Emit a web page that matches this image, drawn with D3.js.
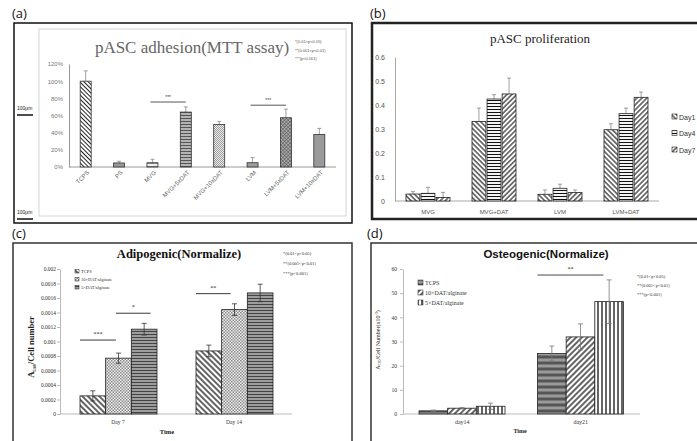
<!DOCTYPE html>
<html>
<head>
<meta charset="utf-8">
<title>pASC figure</title>
<script src="https://cdnjs.cloudflare.com/ajax/libs/d3/7.8.5/d3.min.js"></script>
<style>
  body { margin:0; background:#fff; }
  svg { display:block; }
</style>
</head>
<body>
<div id="fig"></div>
<script>
////////////////////////////////
// DATA

// (a) adhesion, fraction of TCPS
var adhCats  = ["TCPS","PS","MVG","MVG+5xDAT","MVG+10xDAT","LVM","LVM+5xDAT","LVM+10xDAT"];
var adhVals  = [1.00, 0.047, 0.05, 0.64, 0.496, 0.05, 0.574, 0.38];
var adhErr   = [0.12, 0.02, 0.04, 0.06, 0.035, 0.06, 0.10, 0.07];
var adhTicks = [0, 0.2, 0.4, 0.6, 0.8, 1.0, 1.2];
var adhSig   = [["MVG","MVG+5xDAT",0.757,"***"], ["LVM","LVM+5xDAT",0.72,"***"]];

// (b) proliferation
var proCats  = ["MVG","MVG+DAT","LVM","LVM+DAT"];
var proDays  = ["Day1","Day4","Day7"];
var proDay1  = [0.029, 0.331, 0.028, 0.297];
var proDay4  = [0.032, 0.425, 0.053, 0.364];
var proDay7  = [0.015, 0.446, 0.035, 0.432];
var proErr1  = [0.010, 0.056, 0.018, 0.025];
var proErr4  = [0.025, 0.018, 0.017, 0.023];
var proErr7  = [0.021, 0.066, 0.011, 0.022];
var proTicks = [0, 0.1, 0.2, 0.3, 0.4, 0.5, 0.6];

// (c) adipogenic
var adiTimes = ["Day 7","Day 14"];
var adiGroups = ["TCPS","10×DAT/alginate","5×DAT/alginate"];
var adiTCPS  = [0.00025, 0.00087];
var adi10x   = [0.00077, 0.00144];
var adi5x    = [0.00117, 0.00167];
var adiErrT  = [0.00007, 0.00008];
var adiErr10 = [0.00007, 0.00008];
var adiErr5  = [0.00008, 0.00012];
var adiTicks = d3.range(0, 0.00201, 0.0002);
// [time, from bar, to bar, level, label]
var adiSig   = [["Day 7",0,1.4,0.00102,"***"], ["Day 7",1.4,2.75,0.00139,"*"], ["Day 14",0,1.35,0.00166,"**"]];

// (d) osteogenic
var ostTimes = ["day14","day21"];
var ostGroups = ["TCPS","10×DAT/alginate","5×DAT/alginate"];
var ostTCPS  = [1.3, 25.0];
var ost10x   = [2.4, 31.9];
var ost5x    = [3.2, 46.5];
var ostErrT  = [0.3, 3.1];
var ostErr10 = [0.3, 5.4];
var ostErr5  = [1.3, 9.0];
var ostTicks = [0, 10, 20, 30, 40, 50, 60];
var ostSig   = [["day21",0,2.3,57.5,"**"]];

var sigLegend = ["*(0.01<p<0.05)", "**(0.001<p<0.01)", "***(p<0.001)"];

////////////////////////////////
// SETUP
var SANS = "'Liberation Sans', Arial, sans-serif";
var SERIF = "'Liberation Serif', 'Times New Roman', serif";
var LABEL = "'Open Sans', 'DejaVu Sans', sans-serif";

var svg = d3.select("#fig").append("svg").attr("width", 697).attr("height", 441);
svg.append("rect").attr("width", 697).attr("height", 441).attr("fill", "#fff");
var defs = svg.append("defs");

// line hatch: angle 0 = vertical, 90 = horizontal, 45 = "/", -45 = "\"
function hatch(id, angle, gap, sw, color, bg) {
	var p = defs.append("pattern").attr("id", id)
		.attr("patternUnits", "userSpaceOnUse")
		.attr("width", gap).attr("height", gap)
		.attr("patternTransform", "rotate(" + angle + ")");
	p.append("rect").attr("width", gap).attr("height", gap).attr("fill", bg);
	p.append("line").attr("x1", gap/2).attr("y1", 0).attr("x2", gap/2).attr("y2", gap)
		.attr("stroke", color).attr("stroke-width", sw);
	return "url(#" + id + ")";
}
function cross(id, gap, sw, color, bg) {
	var p = defs.append("pattern").attr("id", id)
		.attr("patternUnits", "userSpaceOnUse")
		.attr("width", gap).attr("height", gap)
		.attr("patternTransform", "rotate(45)");
	p.append("rect").attr("width", gap).attr("height", gap).attr("fill", bg);
	p.append("line").attr("x1", gap/2).attr("y1", 0).attr("x2", gap/2).attr("y2", gap).attr("stroke", color).attr("stroke-width", sw);
	p.append("line").attr("x1", 0).attr("y1", gap/2).attr("x2", gap).attr("y2", gap/2).attr("stroke", color).attr("stroke-width", sw);
	return "url(#" + id + ")";
}
function checker(id, s, c1, c2) {
	var p = defs.append("pattern").attr("id", id)
		.attr("patternUnits", "userSpaceOnUse")
		.attr("width", 2*s).attr("height", 2*s);
	p.append("rect").attr("width", 2*s).attr("height", 2*s).attr("fill", c2);
	p.append("rect").attr("width", s).attr("height", s).attr("fill", c1);
	p.append("rect").attr("x", s).attr("y", s).attr("width", s).attr("height", s).attr("fill", c1);
	return "url(#" + id + ")";
}

function errBar(g, x, y1, y2, cap, color, sw) {
	g.append("line").attr("x1", x).attr("x2", x).attr("y1", y1).attr("y2", y2)
		.attr("stroke", color).attr("stroke-width", sw);
	g.append("line").attr("x1", x - cap/2).attr("x2", x + cap/2).attr("y1", y2).attr("y2", y2)
		.attr("stroke", color).attr("stroke-width", sw);
}

function styleAxis(ax, color, lineColor, size, font) {
	ax.select(".domain").attr("stroke", lineColor);
	ax.selectAll(".tick line").attr("stroke", lineColor);
	ax.selectAll("text").attr("fill", color).style("font-size", size + "px").style("font-family", font);
}

function panelLabel(x, y, t) {
	svg.append("text").attr("x", x).attr("y", y).text(t)
		.style("font-family", LABEL).style("font-size", "13px").attr("fill", "#111");
}

///////////////////////////////
// (a) pASC adhesion
panelLabel(12, 18, "(a)");
var ga = svg.append("g");
ga.append("rect").attr("x", 14).attr("y", 23).attr("width", 338).attr("height", 200)
	.attr("fill", "none").attr("stroke", "#111").attr("stroke-width", 1.5);
ga.append("rect").attr("x", 39).attr("y", 29).attr("width", 307).attr("height", 187)
	.attr("fill", "none").attr("stroke", "#d6d6d6").attr("stroke-width", 1);

var adhFills = [
	hatch("a0", -45, 3, 1, "#222", "#fff"),
	hatch("a1", 90, 2, 0.8, "#333", "#ddd"),
	hatch("a2", 90, 2.5, 0.8, "#444", "#fff"),
	hatch("a3", 90, 3, 1.4, "#555", "#ccc"),
	checker("a4", 1, "#9a9a9a", "#eee"),
	"#9c9c9c",
	cross("a6", 2.5, 0.6, "#555", "#b0b0b0"),
	"#9a9a9a"
];

var xA = d3.scaleBand().domain(adhCats).range([69, 336]);
var yA = d3.scaleLinear().domain([0, 1.2]).range([167, 64]);
var axA = ga.append("g").attr("transform", "translate(69,0)")
	.call(d3.axisLeft(yA).tickValues(adhTicks).tickSize(0).tickPadding(6).tickFormat(d3.format(".0%")));
styleAxis(axA, "#777", "#999", 6, SANS);
ga.append("line").attr("x1", 69).attr("x2", 336).attr("y1", yA(0)).attr("y2", yA(0))
	.attr("stroke", "#999").attr("stroke-width", 1);

adhCats.forEach(function(c, i) {
	var cx = xA(c) + xA.bandwidth()/2;
	errBar(ga, cx, yA(adhVals[i]), yA(adhVals[i] + adhErr[i]), 4, "#888", 0.8);
	ga.append("rect").attr("x", cx - 5.5).attr("width", 11)
		.attr("y", yA(adhVals[i])).attr("height", yA(0) - yA(adhVals[i]))
		.attr("fill", adhFills[i]).attr("stroke", "#333").attr("stroke-width", 0.8);
	ga.append("text").attr("transform", "translate(" + (cx + 4) + "," + 173 + ") rotate(-45)")
		.attr("text-anchor", "end").text(c)
		.style("font-family", SANS).style("font-size", "6px").attr("fill", "#666");
});
adhSig.forEach(function(s) {
	var x1 = xA(s[0]) + xA.bandwidth()/2 - 2, x2 = xA(s[1]) + xA.bandwidth()/2;
	ga.append("line").attr("x1", x1).attr("x2", x2).attr("y1", yA(s[2])).attr("y2", yA(s[2]))
		.attr("stroke", "#444").attr("stroke-width", 0.9);
	ga.append("text").attr("x", (x1 + x2)/2).attr("y", yA(s[2]) - 3).attr("text-anchor", "middle")
		.text(s[3]).style("font-family", SANS).style("font-size", "5px").attr("fill", "#444");
});
ga.append("text").attr("x", 192).attr("y", 53).attr("text-anchor", "middle")
	.text("pASC adhesion(MTT assay)")
	.style("font-family", SERIF).style("font-size", "17px").attr("fill", "#666");
sigLegend.forEach(function(t, i) {
	ga.append("text").attr("x", 295).attr("y", 43 + i*8.5).text(t)
		.style("font-family", SANS).style("font-size", "4px").attr("fill", "#555");
});
// scale bars left over from the micrographs
[[110, 115], [214, 219]].forEach(function(p) {
	ga.append("text").attr("x", 17).attr("y", p[0]).text("100μm")
		.style("font-family", SANS).style("font-size", "5px").attr("fill", "#222");
	ga.append("line").attr("x1", 17).attr("x2", 33).attr("y1", p[1]).attr("y2", p[1])
		.attr("stroke", "#111").attr("stroke-width", 1.5);
});

///////////////////////////////
// (b) pASC proliferation
panelLabel(370, 18, "(b)");
var gb = svg.append("g");
gb.append("rect").attr("x", 372).attr("y", 23).attr("width", 340).attr("height", 196)
	.attr("fill", "none").attr("stroke", "#222").attr("stroke-width", 2.5);
gb.append("text").attr("x", 540).attr("y", 43).attr("text-anchor", "middle")
	.text("pASC proliferation")
	.style("font-family", SERIF).style("font-size", "13px").attr("fill", "#222");

var proFills = [
	hatch("b0", -45, 3.5, 1.1, "#111", "#fff"),
	hatch("b1", 90, 3, 1.1, "#111", "#fff"),
	hatch("b2", 45, 3.5, 1.1, "#111", "#fff")
];
var proVals = [proDay1, proDay4, proDay7];
var proErrs = [proErr1, proErr4, proErr7];

var xB = d3.scaleBand().domain(proCats).range([395, 659]);
var xB2 = d3.scaleBand().domain(proDays).range([11, 55]).paddingInner(0.08);
var yB = d3.scaleLinear().domain([0, 0.6]).range([201, 57]);
var axB = gb.append("g").attr("transform", "translate(395,0)")
	.call(d3.axisLeft(yB).tickValues(proTicks).tickSize(0).tickPadding(10)
		.tickFormat(function(d) { return d === 0 ? "0" : d.toFixed(1); }));
styleAxis(axB, "#555", "#aaa", 7, SANS);
gb.append("line").attr("x1", 395).attr("x2", 659).attr("y1", yB(0)).attr("y2", yB(0))
	.attr("stroke", "#aaa").attr("stroke-width", 1.2);

proCats.forEach(function(c, i) {
	proDays.forEach(function(dname, j) {
		var x = xB(c) + xB2(dname), w = xB2.bandwidth(), v = proVals[j][i];
		errBar(gb, x + w/2, yB(v), yB(v + proErrs[j][i]), 4, "#888", 0.8);
		gb.append("rect").attr("x", x).attr("width", w).attr("y", yB(v)).attr("height", yB(0) - yB(v))
			.attr("fill", proFills[j]).attr("stroke", "#222").attr("stroke-width", 0.8);
	});
	gb.append("text").attr("x", xB(c) + xB.bandwidth()/2).attr("y", 214).attr("text-anchor", "middle")
		.text(c).style("font-family", SANS).style("font-size", "6px").attr("fill", "#555");
});
proDays.forEach(function(dname, j) {
	var y = 117 + j*16.5;
	gb.append("rect").attr("x", 672).attr("y", y - 3).attr("width", 5).attr("height", 5)
		.attr("fill", proFills[j]).attr("stroke", "#222").attr("stroke-width", 0.6);
	gb.append("text").attr("x", 679).attr("y", y + 2.5).text(dname)
		.style("font-family", SANS).style("font-size", "7px").attr("fill", "#333");
});

///////////////////////////////
// (c) Adipogenic
panelLabel(12, 238, "(c)");
var gc = svg.append("g");
gc.append("rect").attr("x", 13).attr("y", 243).attr("width", 339).attr("height", 210)
	.attr("fill", "none").attr("stroke", "#333").attr("stroke-width", 1.5);
gc.append("text").attr("x", 179).attr("y", 258).attr("text-anchor", "middle")
	.text("Adipogenic(Normalize)")
	.style("font-family", SERIF).style("font-size", "12.5px").style("font-weight", "bold").attr("fill", "#111");

var adiFills = [
	hatch("c0", -45, 4, 1.4, "#222", "#fff"),
	checker("c1", 1.5, "#8a8a8a", "#f0f0f0"),
	hatch("c2", 90, 3, 1.5, "#444", "#bbb")
];
var adiVals = [adiTCPS, adi10x, adi5x];
var adiErrs = [adiErrT, adiErr10, adiErr5];

var xC = d3.scaleBand().domain(adiTimes).range([60, 292]);
var xC2 = d3.scaleBand().domain(adiGroups).range([20, 97]);
var yC = d3.scaleLinear().domain([0, 0.002]).range([414, 269]);
var axC = gc.append("g").attr("transform", "translate(60,0)")
	.call(d3.axisLeft(yC).tickValues(adiTicks).tickSize(3).tickSizeOuter(0).tickPadding(1)
		.tickFormat(function(d) { return d < 1e-9 ? "0" : String(+d.toFixed(4)); }));
styleAxis(axC, "#333", "#bbb", 5.5, SERIF);
gc.append("line").attr("x1", 60).attr("x2", 292).attr("y1", yC(0)).attr("y2", yC(0))
	.attr("stroke", "#bbb").attr("stroke-width", 1);

adiTimes.forEach(function(t, i) {
	adiGroups.forEach(function(gname, j) {
		var x = xC(t) + xC2(gname), w = xC2.bandwidth(), v = adiVals[j][i], e = adiErrs[j][i];
		gc.append("rect").attr("x", x).attr("width", w).attr("y", yC(v)).attr("height", yC(0) - yC(v))
			.attr("fill", adiFills[j]).attr("stroke", "#222").attr("stroke-width", 0.8);
		errBar(gc, x + w/2, yC(v), yC(v + e), 5, "#333", 0.8);
		errBar(gc, x + w/2, yC(v), yC(v - e), 5, "#333", 0.8);
	});
	gc.append("text").attr("x", xC(t) + xC.bandwidth()/2).attr("y", 424).attr("text-anchor", "middle")
		.text(t).style("font-family", SERIF).style("font-size", "5.5px").attr("fill", "#333");
});
adiSig.forEach(function(s) {
	var x0 = xC(s[0]) + xC2.range()[0], step = xC2.step();
	var x1 = x0 + s[1]*step, x2 = x0 + s[2]*step;
	gc.append("line").attr("x1", x1).attr("x2", x2).attr("y1", yC(s[3])).attr("y2", yC(s[3]))
		.attr("stroke", "#222").attr("stroke-width", 0.9);
	gc.append("text").attr("x", (x1 + x2)/2).attr("y", yC(s[3]) - 4).attr("text-anchor", "middle")
		.text(s[4]).style("font-family", SERIF).style("font-size", "6px").attr("fill", "#222");
});
gc.append("text").attr("x", 167).attr("y", 434).attr("text-anchor", "middle").text("Time")
	.style("font-family", SERIF).style("font-size", "6.5px").style("font-weight", "bold").attr("fill", "#222");
var ytc = gc.append("text").attr("transform", "translate(34,347) rotate(-90)").attr("text-anchor", "middle")
	.style("font-family", SERIF).style("font-size", "8.5px").style("font-weight", "bold").attr("fill", "#222");
ytc.append("tspan").text("A");
ytc.append("tspan").text("510").style("font-size", "5px").attr("dy", 1.5);
ytc.append("tspan").text("/Cell number").attr("dy", -1.5);
adiGroups.forEach(function(gname, j) {
	var y = 272 + j*8;
	gc.append("rect").attr("x", 75).attr("y", y - 2.5).attr("width", 4).attr("height", 3.5)
		.attr("fill", adiFills[j]).attr("stroke", "#222").attr("stroke-width", 0.5);
	gc.append("text").attr("x", 81).attr("y", y + 1).text(gname)
		.style("font-family", SERIF).style("font-size", "4.5px").attr("fill", "#333");
});
sigLegend.forEach(function(t, i) {
	gc.append("text").attr("x", 283).attr("y", 255 + i*10).text(t)
		.style("font-family", SERIF).style("font-size", "4.5px").attr("fill", "#333");
});

///////////////////////////////
// (d) Osteogenic
panelLabel(367, 238, "(d)");
var gd = svg.append("g");
gd.append("rect").attr("x", 371).attr("y", 243).attr("width", 340).attr("height", 210)
	.attr("fill", "none").attr("stroke", "#333").attr("stroke-width", 1.5);
gd.append("text").attr("x", 546).attr("y", 258).attr("text-anchor", "middle")
	.text("Osteogenic(Normalize)")
	.style("font-family", SANS).style("font-size", "11.5px").style("font-weight", "bold").attr("fill", "#111");

var ostFills = [
	hatch("d0", 90, 6, 3, "#555", "#9a9a9a"),
	hatch("d1", 45, 4, 1.4, "#222", "#fff"),
	hatch("d2", 0, 4, 1.4, "#222", "#fff")
];
var ostVals = [ostTCPS, ost10x, ost5x];
var ostErrs = [ostErrT, ostErr10, ostErr5];

var xD = d3.scaleBand().domain(ostTimes).range([403, 640]);
var xD2 = d3.scaleBand().domain(ostGroups).range([16, 102]);
var yD = d3.scaleLinear().domain([0, 60]).range([414, 269]);
var axD = gd.append("g").attr("transform", "translate(403,0)")
	.call(d3.axisLeft(yD).tickValues(ostTicks).tickSize(3).tickSizeOuter(0).tickPadding(3));
styleAxis(axD, "#333", "#bbb", 5.5, SERIF);
gd.append("line").attr("x1", 403).attr("x2", 640).attr("y1", yD(0)).attr("y2", yD(0))
	.attr("stroke", "#bbb").attr("stroke-width", 1);

ostTimes.forEach(function(t, i) {
	ostGroups.forEach(function(gname, j) {
		var x = xD(t) + xD2(gname), w = xD2.bandwidth(), v = ostVals[j][i], e = ostErrs[j][i];
		gd.append("rect").attr("x", x).attr("width", w).attr("y", yD(v)).attr("height", yD(0) - yD(v))
			.attr("fill", ostFills[j]).attr("stroke", "#222").attr("stroke-width", 0.8);
		errBar(gd, x + w/2, yD(v), yD(v + e), 5, "#777", 0.8);
		errBar(gd, x + w/2, yD(v), yD(v - e), 5, "#777", 0.8);
	});
	gd.append("text").attr("x", xD(t) + xD.bandwidth()/2).attr("y", 424).attr("text-anchor", "middle")
		.text(t).style("font-family", SERIF).style("font-size", "6px").attr("fill", "#333");
});
ostSig.forEach(function(s) {
	var x0 = xD(s[0]) + xD2.range()[0], step = xD2.step();
	var x1 = x0 + s[1]*step, x2 = x0 + s[2]*step;
	gd.append("line").attr("x1", x1).attr("x2", x2).attr("y1", yD(s[3])).attr("y2", yD(s[3]))
		.attr("stroke", "#333").attr("stroke-width", 0.9);
	gd.append("text").attr("x", (x1 + x2)/2).attr("y", yD(s[3]) - 4).attr("text-anchor", "middle")
		.text(s[4]).style("font-family", SERIF).style("font-size", "6px").attr("fill", "#222");
});
gd.append("text").attr("x", 520).attr("y", 433).attr("text-anchor", "middle").text("Time")
	.style("font-family", SERIF).style("font-size", "6px").style("font-weight", "bold").attr("fill", "#222");
var ytd = gd.append("text").attr("transform", "translate(380,340) rotate(-90)").attr("text-anchor", "middle")
	.style("font-family", SERIF).style("font-size", "6px").attr("fill", "#222");
ytd.append("tspan").text("A");
ytd.append("tspan").text("570").style("font-size", "4px").attr("dy", 1.2);
ytd.append("tspan").text("/Cell Number(x10").attr("dy", -1.2);
ytd.append("tspan").text("-3").style("font-size", "4px").attr("dy", -2);
ytd.append("tspan").text(")").attr("dy", 2);
ostGroups.forEach(function(gname, j) {
	var y = 283 + j*10;
	gd.append("rect").attr("x", 418).attr("y", y - 3).attr("width", 5).attr("height", 5)
		.attr("fill", ostFills[j]).attr("stroke", "#222").attr("stroke-width", 0.5);
	gd.append("text").attr("x", 425).attr("y", y + 1.5).text(gname)
		.style("font-family", SERIF).style("font-size", "6px").attr("fill", "#333");
});
sigLegend.forEach(function(t, i) {
	gd.append("text").attr("x", 637).attr("y", 278 + i*9).text(t)
		.style("font-family", SERIF).style("font-size", "4.5px").attr("fill", "#333");
});
</script>
</body>
</html>
